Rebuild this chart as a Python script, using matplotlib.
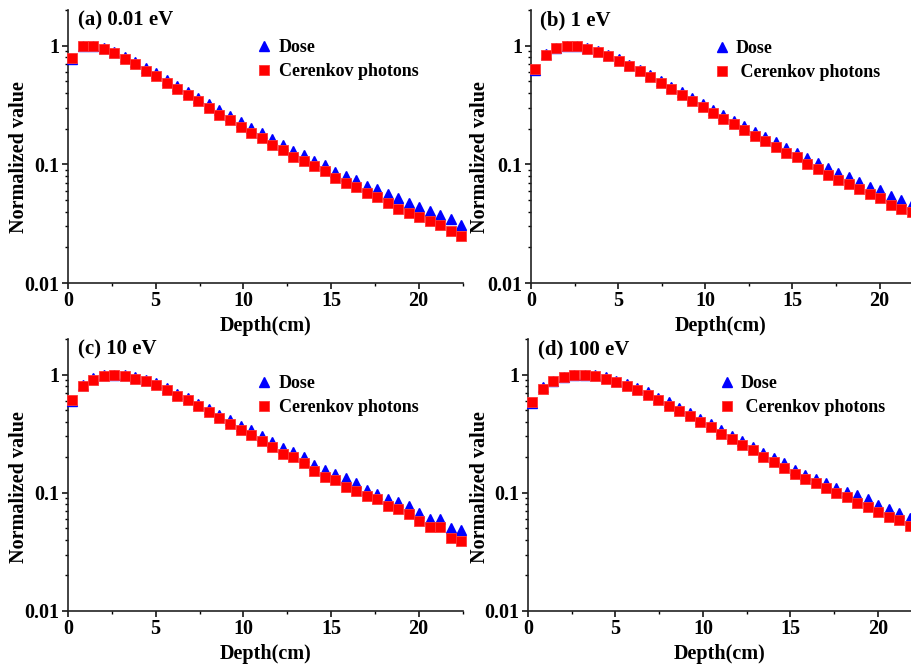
import matplotlib
matplotlib.use('Agg')
import matplotlib.pyplot as plt
from matplotlib.ticker import FixedLocator, NullFormatter, FuncFormatter, MultipleLocator

plt.rcParams['font.family'] = ['Liberation Serif', 'DejaVu Serif']
plt.rcParams['font.weight'] = 'bold'
plt.rcParams['axes.labelweight'] = 'bold'

# depth bins (cm)
depth = [0.24, 0.84, 1.44, 2.04, 2.64, 3.24, 3.84, 4.44, 5.04, 5.64,
         6.24, 6.84, 7.44, 8.04, 8.64, 9.24, 9.84, 10.44, 11.04, 11.64,
         12.24, 12.84, 13.44, 14.04, 14.64, 15.24, 15.84, 16.44, 17.04, 17.64,
         18.24, 18.84, 19.44, 20.04, 20.64, 21.24, 21.84, 22.44]

# (a) 0.01 eV
dose_a = [0.77, 1.0, 1.0, 0.96, 0.89, 0.80, 0.73, 0.645, 0.585, 0.515,
          0.462, 0.408, 0.366, 0.324, 0.287, 0.257, 0.227, 0.203, 0.183, 0.163,
          0.147, 0.129, 0.119, 0.107, 0.099, 0.086, 0.080, 0.074, 0.066, 0.062,
          0.056, 0.052, 0.047, 0.0435, 0.0405, 0.0375, 0.0345, 0.031]
cer_a = [0.79, 1.0, 1.0, 0.944, 0.867, 0.773, 0.70, 0.615, 0.555, 0.487,
         0.434, 0.381, 0.341, 0.300, 0.263, 0.236, 0.206, 0.184, 0.166, 0.147,
         0.132, 0.116, 0.106, 0.096, 0.088, 0.076, 0.070, 0.064, 0.057, 0.053,
         0.047, 0.042, 0.039, 0.036, 0.033, 0.0307, 0.0273, 0.0248]

# (b) 1 eV
dose_b = [0.63, 0.85, 0.96, 1.0, 1.0, 0.96, 0.90, 0.84, 0.77, 0.69,
          0.63, 0.565, 0.50, 0.45, 0.405, 0.36, 0.322, 0.288, 0.259, 0.232,
          0.21, 0.187, 0.171, 0.154, 0.138, 0.124, 0.113, 0.102, 0.093, 0.085,
          0.078, 0.0716, 0.065, 0.061, 0.0545, 0.050, 0.0464, 0.043]
cer_b = [0.64, 0.84, 0.95, 0.99, 1.0, 0.944, 0.885, 0.823, 0.747, 0.669,
         0.607, 0.544, 0.481, 0.431, 0.386, 0.341, 0.304, 0.270, 0.242, 0.217,
         0.196, 0.172, 0.158, 0.141, 0.125, 0.115, 0.100, 0.092, 0.0815, 0.074,
         0.068, 0.062, 0.056, 0.052, 0.0455, 0.042, 0.0397, 0.036]

# (c) 10 eV
dose_c = [0.60, 0.81, 0.93, 0.99, 1.0, 0.99, 0.95, 0.90, 0.845, 0.765,
          0.69, 0.63, 0.565, 0.51, 0.458, 0.41, 0.365, 0.337, 0.30, 0.269,
          0.239, 0.221, 0.199, 0.173, 0.157, 0.145, 0.133, 0.122, 0.106, 0.098,
          0.0885, 0.0834, 0.078, 0.068, 0.060, 0.060, 0.050, 0.0486]
cer_c = [0.606, 0.796, 0.907, 0.98, 1.0, 0.98, 0.925, 0.878, 0.818, 0.737,
         0.664, 0.606, 0.539, 0.486, 0.430, 0.384, 0.342, 0.310, 0.274, 0.244,
         0.214, 0.201, 0.178, 0.153, 0.137, 0.129, 0.113, 0.104, 0.094, 0.089,
         0.0766, 0.073, 0.0656, 0.058, 0.0512, 0.0512, 0.0413, 0.0394]

# (d) 100 eV
dose_d = [0.57, 0.78, 0.89, 0.96, 1.0, 1.0, 0.985, 0.945, 0.89, 0.835,
          0.77, 0.708, 0.634, 0.582, 0.518, 0.473, 0.421, 0.382, 0.342, 0.304,
          0.276, 0.244, 0.218, 0.197, 0.178, 0.157, 0.142, 0.132, 0.121, 0.110,
          0.101, 0.095, 0.0886, 0.079, 0.073, 0.068, 0.0612, 0.057]
cer_d = [0.582, 0.761, 0.878, 0.949, 0.99, 1.0, 0.97, 0.925, 0.867, 0.807,
         0.742, 0.673, 0.606, 0.546, 0.493, 0.443, 0.397, 0.358, 0.316, 0.285,
         0.255, 0.228, 0.202, 0.183, 0.163, 0.145, 0.132, 0.121, 0.110, 0.0994,
         0.092, 0.082, 0.0765, 0.0683, 0.0627, 0.0584, 0.052, 0.048]

titles = ['(a) 0.01 eV', '(b) 1 eV', '(c) 10 eV', '(d) 100 eV']
doses = [dose_a, dose_b, dose_c, dose_d]
cers = [cer_a, cer_b, cer_c, cer_d]

W, H = 911, 667
# axes boxes in pixels: left, top, right, bottom
boxes = [(68, 10, 462.5, 283), (531, 10, 911, 283),
         (68, 339, 462.5, 611), (528, 339, 911, 611)]
xmax = [22.5, 21.8, 22.5, 21.9]
# legend anchor (axes fraction) per panel
leg_pos = [(0.475, 0.894), (0.478, 0.89), (0.475, 0.867), (0.495, 0.867)]
cer_labels = ['Cerenkov photons', ' Cerenkov photons', 'Cerenkov photons', ' Cerenkov photons']
# y-label anchor (axes fraction) per panel
ylab_pos = [(-0.099, 0.462), (-0.108, 0.462), (-0.099, 0.456), (-0.099, 0.456)]

fig = plt.figure(figsize=(W / 100, H / 100), dpi=100)

for k in range(4):
    l, t, r, b = boxes[k]
    ax = fig.add_axes([l / W, 1 - b / H, (r - l) / W, (b - t) / H])
    ax.plot(depth, doses[k], linestyle='none', marker='^', ms=7.6, color='#0000ff',
            mec='#0000ff', label='Dose', clip_on=False, zorder=3)
    ax.plot(depth, cers[k], linestyle='none', marker='s', ms=6.5, color='#ff0000',
            mec='#ff3535', mew=0.6, label=cer_labels[k], clip_on=False, zorder=4)
    ax.set_yscale('log')
    ax.set_ylim(0.01, 2)
    ax.set_xlim(0, xmax[k])
    ax.xaxis.set_major_locator(MultipleLocator(5))
    ax.xaxis.set_minor_locator(MultipleLocator(2.5))
    ax.yaxis.set_major_locator(FixedLocator([0.01, 0.1, 1]))
    ax.yaxis.set_major_formatter(FuncFormatter(lambda v, p: '{:g}'.format(v)))
    ax.yaxis.set_minor_locator(FixedLocator([m * d for d in (0.01, 0.1, 1) for m in range(2, 10) if m * d <= 2]))
    ax.yaxis.set_minor_formatter(NullFormatter())
    for s in ['top', 'right']:
        ax.spines[s].set_visible(False)
    for s in ['left', 'bottom']:
        ax.spines[s].set_linewidth(1.2)
        ax.spines[s].set_color('#222222')
    ax.tick_params(which='major', direction='out', length=4, width=1.1, labelsize=14.5, pad=2)
    ax.tick_params(which='minor', direction='out', length=2.3, width=1.0)
    ax.set_xlabel('Depth(cm)', fontsize=14.5, labelpad=3)
    ax.set_ylabel('Normalized value', fontsize=14.5)
    ax.yaxis.set_label_coords(*ylab_pos[k])
    ax.text(0.025, 1.0, titles[k], transform=ax.transAxes, fontsize=15,
            fontweight='bold', va='top', ha='left')
    ax.legend(loc='upper left', bbox_to_anchor=leg_pos[k], frameon=False,
              fontsize=13, handlelength=1.0, handletextpad=0.3, borderpad=0,
              borderaxespad=0, labelspacing=0.4, numpoints=1)

fig.savefig('out.png', dpi=100)
